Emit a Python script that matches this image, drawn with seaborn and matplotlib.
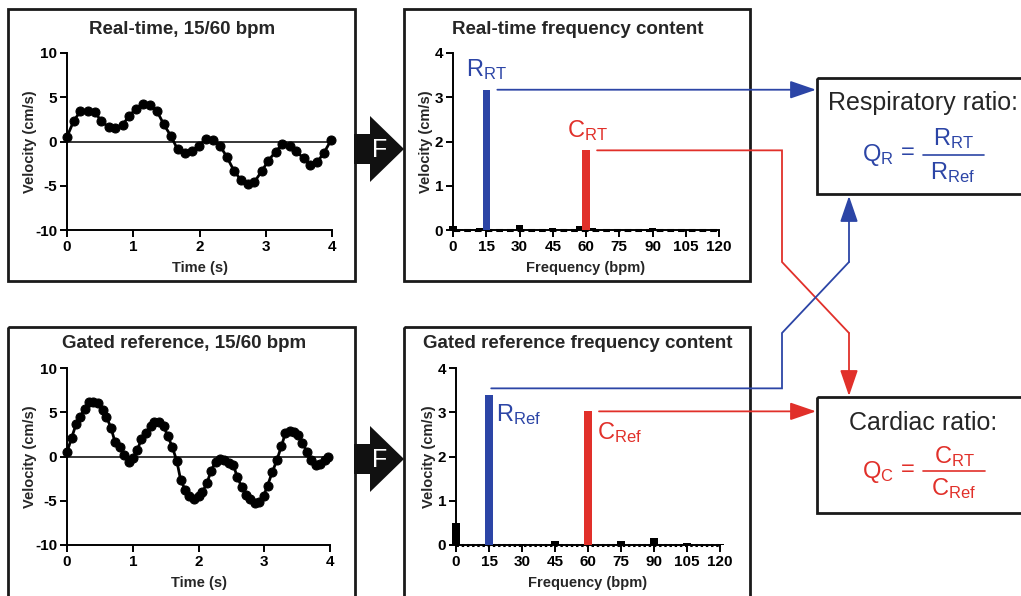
import matplotlib
matplotlib.use("Agg")
import numpy as np
import pandas as pd
import matplotlib.pyplot as plt
import seaborn as sns
from matplotlib.patches import Rectangle, Polygon

# --------------------------------------------------------------
# Data
# --------------------------------------------------------------
rt_time = [0, 0.1, 0.2, 0.31, 0.42, 0.52, 0.63, 0.73, 0.84, 0.94,
           1.04, 1.15, 1.25, 1.36, 1.46, 1.57, 1.67, 1.78, 1.89, 1.99,
           2.1, 2.2, 2.31, 2.41, 2.52, 2.63, 2.73, 2.83, 2.94, 3.04,
           3.15, 3.25, 3.36, 3.46, 3.57, 3.67, 3.78, 3.88, 3.99]
rt_velocity = [0.53, 2.3, 3.4, 3.5, 3.3, 2.3, 1.6, 1.5, 1.9, 2.9,
               3.7, 4.25, 4.1, 3.4, 1.95, 0.6, -0.9, -1.3, -1.1, -0.5,
               0.3, 0.2, -0.5, -1.7, -3.3, -4.4, -4.8, -4.55, -3.35, -2.15,
               -1.15, -0.3, -0.5, -1.1, -1.9, -2.6, -2.3, -1.25, 0.2]

ref_time = [0, 0.07, 0.14, 0.2, 0.27, 0.33, 0.4, 0.47, 0.54, 0.6,
            0.67, 0.73, 0.8, 0.87, 0.94, 1.0, 1.07, 1.13, 1.2, 1.27,
            1.33, 1.4, 1.47, 1.53, 1.6, 1.67, 1.73, 1.8, 1.86, 1.93,
            2.0, 2.06, 2.13, 2.19, 2.26, 2.32, 2.39, 2.46, 2.53, 2.59,
            2.66, 2.72, 2.79, 2.86, 2.92, 2.99, 3.05, 3.12, 3.19, 3.26,
            3.32, 3.39, 3.45, 3.52, 3.58, 3.65, 3.71, 3.78, 3.85, 3.92, 3.97]
ref_velocity = [0.5, 2.1, 3.7, 4.5, 5.4, 6.2, 6.2, 6.05, 5.3, 4.5,
                3.2, 1.65, 1.05, 0.2, -0.6, -0.15, 0.75, 1.95, 2.6, 3.4,
                3.9, 3.9, 3.4, 2.35, 1.1, -0.5, -2.7, -3.8, -4.5, -4.85,
                -4.5, -4.0, -3.0, -1.6, -0.6, -0.3, -0.4, -0.7, -1.0, -2.3,
                -3.5, -4.3, -4.85, -5.3, -5.1, -4.45, -3.3, -1.8, -0.45, 1.15,
                2.6, 2.85, 2.8, 2.4, 1.55, 0.5, -0.4, -0.95, -0.8, -0.35, -0.1]

rt_freq = [0, 3, 6, 9, 12, 15, 18, 21, 24, 27, 30, 33, 36, 39, 42, 45, 48,
           51, 54, 57, 60, 63, 66, 69, 72, 75, 78, 81, 84, 87, 90, 93, 96,
           99, 102, 105, 108, 111, 114, 117, 120]
rt_amp = [0.09, 0.02, 0, 0.01, 0.04, 3.17, 0, 0, 0, 0, 0.12, 0.01, 0, 0, 0,
          0.05, 0, 0.01, 0.01, 0.09, 1.80, 0.04, 0.01, 0.01, 0, 0.01, 0, 0,
          0, 0, 0.04, 0, 0, 0, 0, 0, 0, 0, 0, 0, 0]

ref_freq = [0, 15, 30, 45, 60, 75, 90, 105, 120]
ref_amp = [0.49, 3.39, 0.03, 0.09, 3.02, 0.09, 0.15, 0.05, 0.02]

resp_freq = 15
card_freq = 60
freq_ticks = [0, 15, 30, 45, 60, 75, 90, 105, 120]

BLUE = "#2c45a6"
RED = "#e1302a"
PAL = {"other": "black", "resp": BLUE, "card": RED}

# --------------------------------------------------------------
# Style
# --------------------------------------------------------------
sns.set_theme(style="ticks")
plt.rcParams["font.family"] = ["Liberation Sans", "DejaVu Sans"]
plt.rcParams["mathtext.fontset"] = "custom"
plt.rcParams["mathtext.rm"] = "Liberation Sans"
plt.rcParams["mathtext.it"] = "Liberation Sans:italic"
plt.rcParams["mathtext.bf"] = "Liberation Sans:bold"
plt.rcParams["mathtext.default"] = "regular"
plt.rcParams["axes.unicode_minus"] = False

W, H = 1021, 596
fig = plt.figure(figsize=(W / 100, H / 100), dpi=100)

# overlay in pixel coordinates for boxes, arrows and labels
ov = fig.add_axes([0, 0, 1, 1])
ov.set_xlim(0, W)
ov.set_ylim(H, 0)
ov.axis("off")


def px_axes(x0, y0, x1, y1):
    ax = fig.add_axes([x0 / W, 1 - y1 / H, (x1 - x0) / W, (y1 - y0) / H])
    ax.set_facecolor("none")
    return ax


def style_axes(ax):
    sns.despine(ax=ax)
    for s in ["left", "bottom"]:
        ax.spines[s].set_linewidth(1.4)
        ax.spines[s].set_color("black")
    ax.tick_params(direction="out", length=5, width=1.4, labelsize=11,
                   pad=2, colors="black")
    for lab in ax.get_xticklabels() + ax.get_yticklabels():
        lab.set_fontweight("bold")


def time_panel(ax, t, v):
    sns.lineplot(x=t, y=v, ax=ax, color="black", lw=2, marker="o", ms=6.5,
                 mec="black", sort=False, estimator=None, clip_on=False, zorder=3)
    ax.axhline(0, color="black", lw=1.1, zorder=1)
    ax.set_xlim(0, 4)
    ax.set_ylim(-10, 10)
    ax.set_xticks([0, 1, 2, 3, 4])
    ax.set_yticks([-10, -5, 0, 5, 10])
    style_axes(ax)
    ax.set_xlabel("Time (s)", fontsize=10.5, fontweight="bold", labelpad=5)
    ax.set_ylabel("Velocity (cm/s)", fontsize=10.5, fontweight="bold", labelpad=-1)


def spec_panel(ax, f, a, dash):
    kinds = ["resp" if x == resp_freq else "card" if x == card_freq else "other"
             for x in f]
    df = pd.DataFrame({"freq": f, "amp": a, "kind": kinds})
    sns.barplot(data=df, x="freq", y="amp", hue="kind", palette=PAL,
                native_scale=True, width=3.2 / (f[1] - f[0]), dodge=False,
                legend=False, saturation=1, linewidth=0, ax=ax, zorder=3)
    for p in ax.patches:
        p.set_clip_on(False)
    ax.axhline(0, color="black", lw=2.2, ls=dash, zorder=2, clip_on=False)
    ax.set_xlim(0, 120)
    ax.set_ylim(0, 4)
    ax.set_xticks(freq_ticks)
    ax.set_yticks([0, 1, 2, 3, 4])
    style_axes(ax)
    ax.set_xlabel("Frequency (bpm)", fontsize=10.5, fontweight="bold", labelpad=5)
    ax.set_ylabel("Velocity (cm/s)", fontsize=10.5, fontweight="bold", labelpad=1)


ax_rt = px_axes(67, 53, 332, 230)
ax_ref = px_axes(67, 368, 330, 545)
ax_rtf = px_axes(453, 53, 719, 230)
ax_reff = px_axes(456, 368, 720, 545)

time_panel(ax_rt, rt_time, rt_velocity)
time_panel(ax_ref, ref_time, ref_velocity)
spec_panel(ax_rtf, rt_freq, rt_amp, (0, (2.2, 1.3)))
spec_panel(ax_reff, ref_freq, ref_amp, (0, (0.8, 0.9)))

# frames
frame_kw = dict(fill=False, lw=2, ec="#1a1a1a")
for x0, y0, x1, y1 in [(8, 9, 355, 281), (404, 9, 750, 281),
                       (8, 327, 355, 610), (404, 327, 750, 610),
                       (817, 78, 1030, 194), (817, 397, 1030, 513)]:
    ov.add_patch(Rectangle((x0, y0), x1 - x0, y1 - y0, **frame_kw))

# titles
title_kw = dict(fontsize=13.5, fontweight="bold", ha="center", va="center")
ov.text(182, 29, "Real-time, 15/60 bpm", **title_kw)
ov.text(578, 29, "Real-time frequency content", **title_kw)
ov.text(184, 344, "Gated reference, 15/60 bpm", **title_kw)
ov.text(578, 343, "Gated reference frequency content", **title_kw)

# Fourier arrows
for cy in [149, 459]:
    ov.add_patch(Polygon([(354, cy - 15), (370, cy - 15), (370, cy - 33),
                          (404, cy), (370, cy + 33), (370, cy + 15),
                          (354, cy + 15)], closed=True, fc="#111111", ec="none"))
    ov.text(380, cy + 1, "F", color="white", fontsize=18, ha="center", va="center")

# peak labels
ov.text(466, 70, r"$R_{RT}$", color=BLUE, fontsize=17, ha="left", va="center")
ov.text(567, 131, r"$C_{RT}$", color=RED, fontsize=17, ha="left", va="center")
ov.text(496, 415, r"$R_{Ref}$", color=BLUE, fontsize=17, ha="left", va="center")
ov.text(597, 433, r"$C_{Ref}$", color=RED, fontsize=17, ha="left", va="center")


def to_px(ax, x, y):
    disp = ax.transData.transform((x, y))
    return ov.transData.inverted().transform(disp)


amp_rt = dict(zip(rt_freq, rt_amp))
amp_ref = dict(zip(ref_freq, ref_amp))
x_r1, y_r1 = to_px(ax_rtf, resp_freq + 5, amp_rt[resp_freq])
x_c1, y_c1 = to_px(ax_rtf, card_freq + 5, amp_rt[card_freq])
x_r2, y_r2 = to_px(ax_reff, resp_freq + 1, amp_ref[resp_freq] + 0.15)
x_c2, y_c2 = to_px(ax_reff, card_freq + 5, amp_ref[card_freq])

arrow_kw = dict(arrowstyle="-|>,head_length=1.6,head_width=0.55",
                mutation_scale=10, lw=1.3, shrinkA=0, shrinkB=0)


def connector(points, color):
    xs = [p[0] for p in points]
    ys = [p[1] for p in points]
    ov.plot(xs[:-1], ys[:-1], color=color, lw=1.3, solid_joinstyle="miter")
    ov.annotate("", xy=points[-1], xytext=points[-2],
                arrowprops=dict(color=color, **arrow_kw))


connector([(x_r1, y_r1), (816, y_r1)], BLUE)
connector([(x_c1, y_c1), (782, y_c1), (782, 262), (849, 333), (849, 396)], RED)
connector([(x_r2, y_r2), (782, y_r2), (782, 333), (849, 262), (849, 196)], BLUE)
connector([(x_c2, y_c2), (816, y_c2)], RED)

# ratio boxes
ov.text(923, 103, "Respiratory ratio:", fontsize=18, ha="center", va="center")
ov.text(878, 155, r"$Q_R$", color=BLUE, fontsize=17, ha="center", va="center")
ov.text(908, 153, "=", color=BLUE, fontsize=17, ha="center", va="center")
ov.plot([923, 984], [155, 155], color=BLUE, lw=1.2)
ov.text(953, 139, r"$R_{RT}$", color=BLUE, fontsize=17, ha="center", va="center")
ov.text(953, 173, r"$R_{Ref}$", color=BLUE, fontsize=17, ha="center", va="center")

ov.text(923, 423, "Cardiac ratio:", fontsize=18, ha="center", va="center")
ov.text(878, 472, r"$Q_C$", color=RED, fontsize=17, ha="center", va="center")
ov.text(908, 470, "=", color=RED, fontsize=17, ha="center", va="center")
ov.plot([923, 985], [471, 471], color=RED, lw=1.2)
ov.text(954, 457, r"$C_{RT}$", color=RED, fontsize=17, ha="center", va="center")
ov.text(954, 489, r"$C_{Ref}$", color=RED, fontsize=17, ha="center", va="center")

plt.savefig("out.png", dpi=100)
